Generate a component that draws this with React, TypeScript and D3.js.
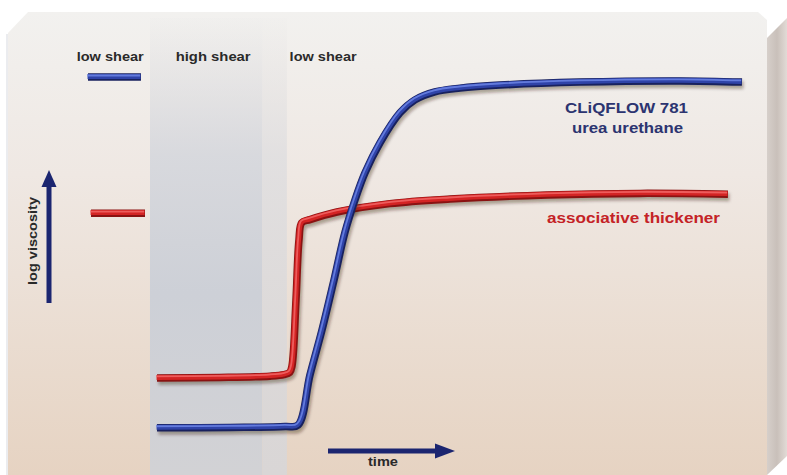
import React from "react";
import * as d3 from "d3";

// ---- data (time in arbitrary units 0..100, log viscosity in arbitrary units 0..10)
const blueT = [0, 12.5, 21.9, 24.1, 26.15, 28.2, 30.26, 32.14, 33.85, 35.56, 38.12, 41.54, 44.1, 47.5, 51.8, 58.6, 72.3, 89.4, 100];
const blueV = [0.32, 0.33, 0.355, 0.39, 1.71, 2.89, 4.21, 5.47, 6.32, 7.03, 7.82, 8.61, 8.95, 9.16, 9.26, 9.34, 9.42, 9.45, 9.42];
const redT = [0, 10.77, 19.3, 21.7, 22.7, 23.08, 23.76, 24.27, 24.75, 26.15, 30.77, 39.8, 50.1, 66.7, 82.6, 97.6];
const redV = [1.63, 1.645, 1.68, 1.72, 1.78, 1.95, 3.68, 5.26, 5.72, 5.8, 6.0, 6.22, 6.34, 6.45, 6.49, 6.47];
// initial (low shear) levels shown as short bars
const levelT0 = [-11.8, -11.28];
const levelT1 = [-2.74, -2.05];
const levelV = [9.55, 5.97];
const phaseLabels = ["low shear", "high shear", "low shear"];
const phaseT = [-8, 9.6, 28.4];
const phaseWidths = [67, 75, 67];
const highShearBand = [-1.2, 18, 22.2];
const seriesLabels = [["CLiQFLOW 781", "urea urethane"], ["associative thickener"]];

const W = 787;
const H = 475;
const FONT = "'Liberation Sans', Arial, Helvetica, sans-serif";

const x = d3.scaleLinear().domain([0, 100]).range([157, 742]);
const y = d3.scaleLinear().domain([0, 10]).range([440, 60]);

const line = d3
  .line<[number, number]>()
  .x((d) => x(d[0]))
  .y((d) => y(d[1]))
  .curve(d3.curveCatmullRom.alpha(0.5));

function Tube({ d, dark, main, light }: { d: string; dark: string; main: string; light: string }) {
  return (
    <g>
      <path d={d} fill="none" stroke="rgba(40,20,10,0.35)" strokeWidth={8} strokeLinecap="butt" strokeLinejoin="round" transform="translate(1.5,3)" filter="url(#blur)" />
      <path d={d} fill="none" stroke={dark} strokeWidth={7.5} strokeLinecap="butt" strokeLinejoin="round" />
      <path d={d} fill="none" stroke={main} strokeWidth={5} strokeLinecap="butt" strokeLinejoin="round" transform="translate(-0.4,-0.6)" />
      <path d={d} fill="none" stroke={light} strokeWidth={1.8} strokeLinecap="butt" strokeLinejoin="round" strokeOpacity={0.8} transform="translate(-0.8,-1.6)" />
    </g>
  );
}

export default function App() {
  const blueD = line(blueT.map((t, i) => [t, blueV[i]] as [number, number])) || "";
  const redD = line(redT.map((t, i) => [t, redV[i]] as [number, number])) || "";
  const colors = [
    { dark: "#18215e", main: "#2f43a8", light: "#7189ea" },
    { dark: "#8a1212", main: "#d32424", light: "#f46a6a" },
  ];
  const levelD = levelV.map((v, i) => `M${x(levelT0[i])},${y(v)}L${x(levelT1[i])},${y(v)}`);

  const arrowColor = "#1b2570";
  const yArrowX = 49;
  const yArrowBottom = 303;
  const yArrowTip = 170;
  const tArrowY = 451;
  const tArrowStart = 328;
  const tArrowTip = 455;

  return (
    <svg width={W} height={H} style={{ position: "absolute", left: 0, top: 0 }}>
      <defs>
        <linearGradient id="face" x1="0" y1="0" x2="0" y2="1">
          <stop offset="0" stopColor="#f2f1ef" />
          <stop offset="0.35" stopColor="#efe8e3" />
          <stop offset="1" stopColor="#e6d3c2" />
        </linearGradient>
        <linearGradient id="side" x1="0" y1="0" x2="1" y2="0">
          <stop offset="0" stopColor="#d6cfca" />
          <stop offset="0.5" stopColor="#c9c0ba" />
          <stop offset="1" stopColor="#e2dbd6" />
        </linearGradient>
        <linearGradient id="band" x1="0" y1="0" x2="0" y2="1">
          <stop offset="0" stopColor="#d7d9de" stopOpacity="0.05" />
          <stop offset="0.3" stopColor="#d2d5dc" stopOpacity="0.8" />
          <stop offset="0.6" stopColor="#cdd0d7" stopOpacity="1" />
          <stop offset="1" stopColor="#d2d2d5" stopOpacity="1" />
        </linearGradient>
        <linearGradient id="bandSide" x1="0" y1="0" x2="0" y2="1">
          <stop offset="0" stopColor="#e0dfe0" stopOpacity="0.05" />
          <stop offset="0.3" stopColor="#dcdcdf" stopOpacity="0.7" />
          <stop offset="1" stopColor="#d9d6d6" stopOpacity="1" />
        </linearGradient>
        <filter id="blur" x="-10%" y="-10%" width="120%" height="120%">
          <feGaussianBlur stdDeviation="1.6" />
        </filter>
      </defs>
      <rect x={0} y={0} width={W} height={H} fill="#ffffff" />
      {/* box front face */}
      <path d={`M8,33L28,12L758,12L767,20L767,${H}L8,${H}Z`} fill="url(#face)" />
      <line x1={7} y1={34} x2={7} y2={H} stroke="#e4e6ea" strokeWidth={1.5} />
      {/* box right face */}
      <path d={`M767,38L787,18L787,456L767,${H}Z`} fill="url(#side)" />

      {/* high shear slab */}
      <rect x={x(highShearBand[0])} y={18} width={x(highShearBand[1]) - x(highShearBand[0])} height={H - 18} fill="url(#band)" />
      <rect x={x(highShearBand[1])} y={18} width={x(highShearBand[2]) - x(highShearBand[1])} height={H - 18} fill="url(#bandSide)" />

      {/* phase labels */}
      {phaseLabels.map((s, i) => (
        <text key={i} x={x(phaseT[i]) - phaseWidths[i] / 2} y={61} textLength={phaseWidths[i]} lengthAdjust="spacingAndGlyphs" fontFamily={FONT} fontWeight="bold" fontSize={13} fill="#2a2a2a">
          {s}
        </text>
      ))}

      {/* level bars */}
      {levelD.map((dd, i) => (
        <Tube key={i} d={dd} {...colors[i]} />
      ))}

      {/* curves */}
      <Tube d={redD} {...colors[1]} />
      <Tube d={blueD} {...colors[0]} />

      {/* series labels */}
      <text x={565} y={113} textLength={123} lengthAdjust="spacingAndGlyphs" fontFamily={FONT} fontWeight="bold" fontSize={15.5} fill="#2c3470">
        {seriesLabels[0][0]}
      </text>
      <text x={572} y={133} textLength={111} lengthAdjust="spacingAndGlyphs" fontFamily={FONT} fontWeight="bold" fontSize={15.5} fill="#2c3470">
        {seriesLabels[0][1]}
      </text>
      <text x={547} y={223} textLength={173} lengthAdjust="spacingAndGlyphs" fontFamily={FONT} fontWeight="bold" fontSize={15.5} fill="#c42226">
        {seriesLabels[1][0]}
      </text>

      {/* y arrow */}
      <line x1={yArrowX} y1={yArrowBottom} x2={yArrowX} y2={yArrowTip + 14} stroke={arrowColor} strokeWidth={5} />
      <path d={`M${yArrowX},${yArrowTip}L${yArrowX - 7.5},${yArrowTip + 17}L${yArrowX + 7.5},${yArrowTip + 17}Z`} fill={arrowColor} />
      <text transform={`translate(37,241) rotate(-90)`} x={-44} textLength={88} lengthAdjust="spacingAndGlyphs" fontFamily={FONT} fontWeight="bold" fontSize={12} fill="#2a2a2a">
        log viscosity
      </text>

      {/* time arrow */}
      <line x1={tArrowStart} y1={tArrowY} x2={tArrowTip - 16} y2={tArrowY} stroke={arrowColor} strokeWidth={5} />
      <path d={`M${tArrowTip},${tArrowY}L${tArrowTip - 20},${tArrowY - 7.5}L${tArrowTip - 20},${tArrowY + 7.5}Z`} fill={arrowColor} />
      <text x={368} y={466} textLength={30} lengthAdjust="spacingAndGlyphs" fontFamily={FONT} fontWeight="bold" fontSize={12} fill="#2a2a2a">
        time
      </text>
    </svg>
  );
}
